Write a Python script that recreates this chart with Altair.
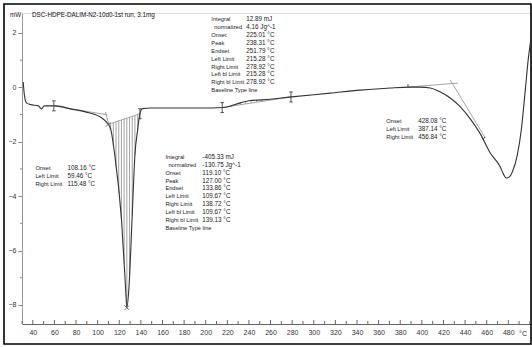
import altair as alt
import pandas as pd
import numpy as np

# ---------------- data ----------------
temp = [31.1, 32.2, 34.1, 37.8, 45.2, 48.0, 50.7, 61.8, 74.8, 88.7, 102.5, 108.1, 111.8,
        115.6, 122.1, 125.8, 127.0, 129.0, 131.8, 134.6, 136.9, 139.2, 141.5, 148.8, 195.0,
        216.3, 232.1, 241.3, 252.4, 279.2, 315.3, 343.0, 370.8, 388.4, 398.6, 407.8, 417.1,
        426.3, 435.6, 444.8, 454.1, 463.3, 472.6, 475.4, 478.1, 481.0, 483.7, 488.3, 492.0,
        495.7, 498.4, 501.2]
heat = [0.20, -0.28, -0.57, -0.63, -0.68, -0.79, -0.68, -0.68, -0.79, -0.90, -1.09, -1.27, -1.49,
        -2.41, -4.88, -7.35, -8.10, -7.35, -4.88, -2.41, -1.60, -0.95, -0.78, -0.76, -0.76,
        -0.74, -0.57, -0.48, -0.46, -0.35, -0.21, -0.10, -0.02, 0.01, 0.01, -0.02, -0.17,
        -0.39, -0.72, -1.16, -1.71, -2.41, -2.93, -3.18, -3.33, -3.29, -3.11, -2.49, -1.57,
        -0.10, 1.01, 1.85]

# evaluation limits
main_bl = [109.67, 139.13]
exo_bl = [215.28, 278.92]
main_hatch_t = [112, 114.5, 117, 119.5, 122, 124.5, 127, 129.5, 132, 134.5, 137]
exo_hatch_t = [227, 232, 237, 242, 247, 252, 257]

# auxiliary tangent / baseline segments (°C, mW)
aux_t0 = [59.46, 107.2, 387.14, 426.3]
aux_v0 = [-0.68, -0.90, 0.01, 0.27]
aux_t1 = [109.0, 111.8, 433.6, 458.7]
aux_v1 = [-1.01, -1.57, 0.16, -1.86]

ibeam_t = [59.46, 215.28, 278.92, 139.13]
cross_t = [109.67, 127.0]
tick_t = [387.14]
arrow_t = [456.84]

x_major = list(range(40, 481, 20))
x_minor = list(range(30, 501, 10))
y_major = [-8, -6, -4, -2, 0, 2]
y_minor = [-7, -5, -3, -1, 1]

title_text = "DSC-HDPE-DALIM-N2-10d0-1st run, 3.1mg"
b1_labels = ["Integral", "normalized", "Onset", "Peak", "Endset", "Left Limit", "Right Limit",
             "Left bl Limit", "Right bl Limit", "Baseline Type  line"]
b1_values = ["12.89 mJ", "4.16 Jg^-1", "225.01 °C", "238.31 °C", "251.79 °C", "215.28 °C",
             "278.92 °C", "215.28 °C", "278.92 °C", ""]
b2_labels = b1_labels
b2_values = ["-405.33 mJ", "-130.75 Jg^-1", "119.10 °C", "127.00 °C", "133.86 °C", "109.67 °C",
             "138.72 °C", "109.67 °C", "139.13 °C", ""]
b3_labels = ["Onset", "Left Limit", "Right Limit"]
b3_values = ["108.16 °C", "59.46 °C", "115.48 °C"]
b4_labels = ["Onset", "Left Limit", "Right Limit"]
b4_values = ["428.08 °C", "387.14 °C", "456.84 °C"]

# ---------------- layout ----------------
W, H = 509, 311
FONT = "Liberation Sans"
FS = 7
FS_LAB = 5.7
FS_VAL = 6.3
xs = alt.Scale(domain=[30, 501], nice=False, zero=False)
ys = alt.Scale(domain=[-8.70, 2.735], nice=False, zero=False)

x_axis = alt.Axis(values=x_major, ticks=False, grid=False, title=None, domainColor="#666",
                  labelFont=FONT, labelFontSize=FS, labelColor="#333", labelPadding=4,
                  labelFlush=False)
y_axis = alt.Axis(values=y_major, ticks=True, tickSize=4, tickColor="#888", grid=False,
                  title=None, domainColor="#999", labelFont=FONT, labelFontSize=FS,
                  labelColor="#333", labelPadding=2, labelFlush=False)


def X(field="t"):
    return alt.X(f"{field}:Q", scale=xs, axis=x_axis)


def Y(field="v"):
    return alt.Y(f"{field}:Q", scale=ys, axis=y_axis)


curve_df = pd.DataFrame({"t": temp, "v": heat})


def cv(t):
    return float(np.interp(t, temp, heat))


def hatch(ts, lim):
    a, b = lim
    va, vb = cv(a), cv(b)
    rows = []
    for t in ts:
        bl = va + (vb - va) * (t - a) / (b - a)
        rows.append({"t": t, "v": cv(t), "v2": bl})
    return pd.DataFrame(rows)


hatch_df = pd.concat([hatch(main_hatch_t, main_bl), hatch(exo_hatch_t, exo_bl)])
bl_rows = []
for i, lim in enumerate([main_bl, exo_bl]):
    for t in lim:
        bl_rows.append({"seg": f"b{i}", "t": t, "v": cv(t)})
for i in range(len(aux_t0)):
    bl_rows.append({"seg": f"a{i}", "t": aux_t0[i], "v": aux_v0[i]})
    bl_rows.append({"seg": f"a{i}", "t": aux_t1[i], "v": aux_v1[i]})
aux_df = pd.DataFrame(bl_rows)

one = pd.DataFrame({"a": [0]})

frame = alt.Chart(one).mark_rect(filled=False, stroke="#000", strokeWidth=1.6).encode(
    x=alt.value(-18), x2=alt.value(W), y=alt.value(-9), y2=alt.value(331))

hatch_layer = alt.Chart(hatch_df).mark_rule(color="#8a8a8a", strokeWidth=0.8).encode(
    x=X(), y=Y(), y2="v2:Q")

aux_layer = alt.Chart(aux_df).mark_line(color="#9a9a9a", strokeWidth=0.9).encode(
    x=X(), y=Y(), detail="seg:N")

curve = alt.Chart(curve_df).mark_line(color="#333", strokeWidth=1.1, interpolate="monotone").encode(
    x=X(), y=Y())


def marks(ts, shape, size, color="#444"):
    df = pd.DataFrame({"t": ts, "v": [cv(t) for t in ts]})
    return alt.Chart(df).mark_point(shape=shape, size=size, filled=False, color=color,
                                    strokeWidth=0.9, opacity=1).encode(x=X(), y=Y())


ibeam = marks(ibeam_t, "M0,-1L0,1M-0.35,-1L0.35,-1M-0.35,1L0.35,1", 100)
crosses = marks(cross_t, "M-1,-1L1,1M-1,1L1,-1", 20, "#666")
ticks_up = marks(tick_t, "M0,-1L0,0", 40)
arrows = marks(arrow_t, "M-0.6,-1L0,0L0.6,-1", 30)

xmaj = alt.Chart(pd.DataFrame({"t": x_major})).mark_rule(color="#666").encode(
    x=X(), y=alt.value(H), y2=alt.value(H - 4))
xmin = alt.Chart(pd.DataFrame({"t": [t for t in x_minor if t not in x_major]})).mark_rule(
    color="#666").encode(x=X(), y=alt.value(H), y2=alt.value(H - 3))
ymin = alt.Chart(pd.DataFrame({"v": y_minor})).mark_rule(color="#888").encode(
    y=Y(), x=alt.value(-2), x2=alt.value(0))

STEP = 0.289


def block(labels, values, lt, vt, v0, indent_row=1):
    lab, val = [], []
    for i, (l, vv) in enumerate(zip(labels, values)):
        lab.append({"t": lt + (2.8 if i == indent_row else 0), "v": v0 - i * STEP, "s": l})
        if vv:
            val.append({"t": vt, "v": v0 - i * STEP, "s": vv})
    return lab, val


lab_rows, val_rows = [], []
for args in [(b1_labels, b1_values, 205.2, 237.6, 2.50),
             (b2_labels, b2_values, 162.7, 196.9, -2.56),
             (b3_labels, b3_values, 42.4, 72.0, -2.96, -1),
             (b4_labels, b4_values, 367.1, 396.7, -1.24, -1)]:
    a, b = block(*args)
    lab_rows += a
    val_rows += b

lab_text = alt.Chart(pd.DataFrame(lab_rows)).mark_text(
    align="left", baseline="middle", font=FONT, fontSize=FS_LAB, color="#222").encode(
    x=X(), y=Y(), text="s:N")
val_text = alt.Chart(pd.DataFrame(val_rows)).mark_text(
    align="left", baseline="middle", font=FONT, fontSize=FS_VAL, color="#222").encode(
    x=X(), y=Y(), text="s:N")

title = alt.Chart(pd.DataFrame({"s": [title_text]})).mark_text(
    align="left", baseline="middle", font=FONT, fontSize=FS_VAL, color="#111").encode(
    x=alt.value(10), y=alt.value(2), text="s:N")
mw = alt.Chart(pd.DataFrame({"s": ["mW"]})).mark_text(
    align="left", baseline="middle", font=FONT, fontSize=FS_VAL, color="#222").encode(
    x=alt.value(-12), y=alt.value(2), text="s:N")
degc = alt.Chart(pd.DataFrame({"s": ["°C"]})).mark_text(
    align="center", baseline="top", font=FONT, fontSize=FS, color="#222").encode(
    x=alt.value(501), y=alt.value(H + 6), text="s:N")

chart = alt.layer(
    frame, hatch_layer, aux_layer, curve, ibeam, crosses, ticks_up, arrows,
    xmaj, xmin, ymin, lab_text, val_text, title, mw, degc
).properties(
    width=W, height=H,
    autosize=alt.AutoSizeParams(type="none"),
    padding={"left": 22, "top": 13, "right": 1, "bottom": 23},
).configure_view(stroke=None).configure(background="white")

chart.save("out.html", embed_options={"renderer": "svg", "actions": False})
